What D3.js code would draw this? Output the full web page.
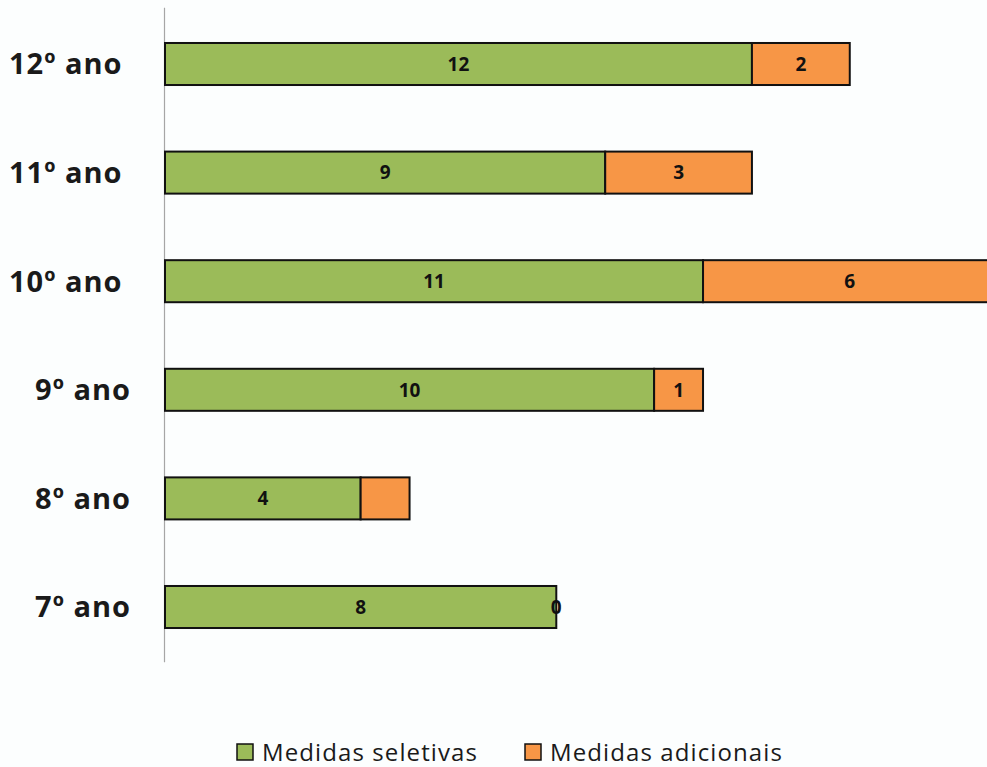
<!DOCTYPE html>
<html>
<head>
<meta charset="utf-8">
<script src="https://cdn.jsdelivr.net/npm/d3@7"></script>
<style>
  body { margin: 0; background: #fcfefe; overflow: hidden; }
  svg { display: block; }
  text { font-family: "Open Sans", sans-serif; }
</style>
</head>
<body>
<script>
// data, top to bottom
var anos = ["12º ano ", "11º ano ", "10º ano ", "9º ano", "8º ano", "7º ano"];
var seletivas = [12, 9, 11, 10, 4, 8];
var adicionais = [2, 3, 6, 1, 1, 0];
var seletivasLabels = ["12", "9", "11", "10", "4", "8"];
var adicionaisLabels = ["2", "3", "6", "1", "", "0"];
var series = ["Medidas seletivas", "Medidas adicionais"];
var colors = ["#9bbb59", "#f79646"];

var width = 987, height = 767;

var svg = d3.select("body").append("svg")
    .attr("width", width)
    .attr("height", height);

var x = d3.scaleLinear()
    .domain([0, 17])
    .range([165, 996.5]);

var y = d3.scaleBand()
    .domain(anos)
    .range([9.7, 661.3])
    .paddingInner(0.613)
    .paddingOuter(0.3065);

var rows = anos.map(function(a, i) {
    return { ano: a, s: seletivas[i], a: adicionais[i], ls: seletivasLabels[i], la: adicionaisLabels[i] };
});

// vertical axis line
svg.append("line")
    .attr("x1", x(0) - 0.5).attr("x2", x(0) - 0.5)
    .attr("y1", y.range()[0] - 2).attr("y2", y.range()[1] + 1)
    .attr("stroke", "#a6a6a6")
    .attr("stroke-width", 1.2);

var g = svg.selectAll("g.row")
    .data(rows)
    .enter()
    .append("g")
    .attr("class", "row");

g.append("rect")
    .attr("x", function(d) { return x(0); })
    .attr("y", function(d) { return y(d.ano); })
    .attr("width", function(d) { return x(d.s) - x(0); })
    .attr("height", y.bandwidth())
    .attr("fill", colors[0])
    .attr("stroke", "#111")
    .attr("stroke-width", 2);

g.append("rect")
    .attr("x", function(d) { return x(d.s); })
    .attr("y", function(d) { return y(d.ano); })
    .attr("width", function(d) { return x(d.s + d.a) - x(d.s); })
    .attr("height", y.bandwidth())
    .attr("fill", colors[1])
    .attr("stroke", "#111")
    .attr("stroke-width", 2);

g.append("text")
    .attr("x", function(d) { return (x(0) + x(d.s)) / 2; })
    .attr("y", function(d) { return y(d.ano) + y.bandwidth() / 2; })
    .attr("dy", "0.36em")
    .attr("text-anchor", "middle")
    .attr("font-size", 19)
    .attr("font-weight", "bold")
    .attr("fill", "#111")
    .text(function(d) { return d.ls; });

g.append("text")
    .attr("x", function(d) { return (x(d.s) + x(d.s + d.a)) / 2; })
    .attr("y", function(d) { return y(d.ano) + y.bandwidth() / 2; })
    .attr("dy", "0.36em")
    .attr("text-anchor", "middle")
    .attr("font-size", 19)
    .attr("font-weight", "bold")
    .attr("fill", "#111")
    .text(function(d) { return d.la; });

// category labels
g.append("text")
    .attr("x", 131)
    .attr("y", function(d) { return y(d.ano) + y.bandwidth() / 2; })
    .attr("dy", "0.36em")
    .attr("text-anchor", "end")
    .attr("font-size", 29)
    .attr("font-weight", "bold")
    .attr("letter-spacing", 1)
    .attr("fill", "#1a1a1a")
    .style("white-space", "pre")
    .text(function(d) { return d.ano; });

// legend
var legendX = [237, 525];
var leg = svg.selectAll("g.legend")
    .data(series)
    .enter()
    .append("g")
    .attr("class", "legend")
    .attr("transform", function(d, i) { return "translate(" + legendX[i] + ",744)"; });

leg.append("rect")
    .attr("width", 16).attr("height", 16)
    .attr("fill", function(d, i) { return colors[i]; })
    .attr("stroke", "#111")
    .attr("stroke-width", 1.5);

leg.append("text")
    .attr("x", 25)
    .attr("y", 8)
    .attr("dy", "0.36em")
    .attr("font-size", 24)
    .attr("letter-spacing", 1.1)
    .attr("fill", "#1a1a1a")
    .text(function(d) { return d; });
</script>
</body>
</html>
